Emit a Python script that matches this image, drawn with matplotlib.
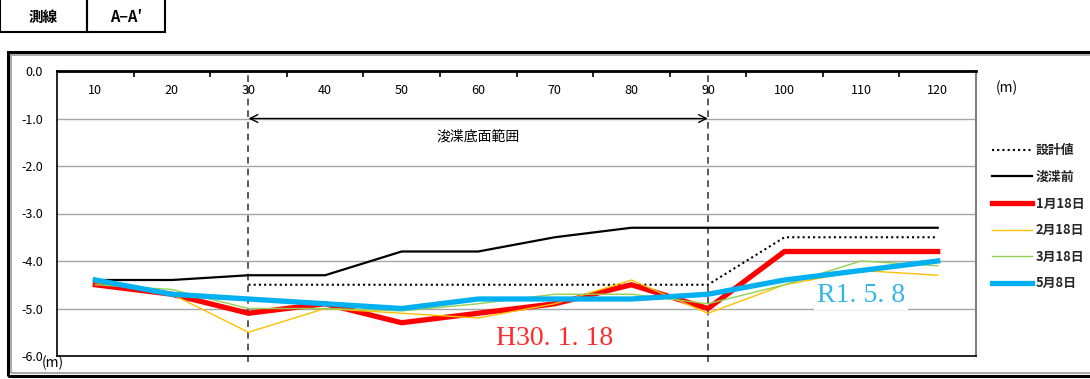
import matplotlib
matplotlib.use("Agg")
import matplotlib.pyplot as plt
import numpy as np
from matplotlib.patches import Rectangle

plt.rcParams['font.family'] = ['Noto Sans CJK JP', 'DejaVu Sans']

# ---- data ----
distances = [10, 20, 30, 40, 50, 60, 70, 80, 90, 100, 110, 120]
design = [np.nan, np.nan, -4.5, -4.5, -4.5, -4.5, -4.5, -4.5, -4.5, -3.5, -3.5, -3.5]
before = [-4.4, -4.4, -4.3, -4.3, -3.8, -3.8, -3.5, -3.3, -3.3, -3.3, -3.3, -3.3]
jan18 = [-4.5, -4.7, -5.1, -4.9, -5.3, -5.1, -4.9, -4.5, -5.0, -3.8, -3.8, -3.8]
feb18 = [-4.45, -4.7, -5.5, -5.0, -5.1, -5.2, -4.9, -4.4, -5.1, -4.5, -4.2, -4.3]
mar18 = [-4.5, -4.6, -5.0, -5.0, -5.05, -4.9, -4.7, -4.7, -4.9, -4.5, -4.0, -4.1]
may8 = [-4.4, -4.7, -4.8, -4.9, -5.0, -4.8, -4.8, -4.8, -4.7, -4.4, -4.2, -4.0]
yticks = [0.0, -1.0, -2.0, -3.0, -4.0, -5.0, -6.0]
range_start, range_end = 30, 90

W, H = 1090, 379
fig = plt.figure(figsize=(W / 100, H / 100), dpi=100)

def fx(px):
    return px / W

def fy(py):
    return 1 - py / H

# outer frame (double border)
fig.add_artist(Rectangle((fx(8), fy(376)), fx(1100) - fx(8), fy(52) - fy(376),
                         transform=fig.transFigure, fill=False, ec='black', lw=2.2))
fig.add_artist(Rectangle((fx(11), fy(373)), fx(1100) - fx(11), fy(55) - fy(373),
                         transform=fig.transFigure, fill=False, ec='#999999', lw=1.2))

# header table
for x0, x1, txt in [(0, 87, '測線'), (87, 165, 'A−A′')]:
    fig.add_artist(Rectangle((fx(x0), fy(32)), fx(x1) - fx(x0), fy(-2) - fy(32),
                             transform=fig.transFigure, fill=False, ec='black', lw=1.5))
    fig.text(fx((x0 + x1) / 2), fy(17), txt, ha='center', va='center',
             fontsize=10.5, fontweight='bold')

ax = fig.add_axes([fx(57), fy(356), fx(976) - fx(57), fy(71) - fy(356)])
idx = np.arange(len(distances))

ax.plot(idx, design, color='black', lw=1.5, ls=(0, (1, 1.5)), label='設計値')
ax.plot(idx, before, color='black', lw=1.6, label='浚渫前')
ax.plot(idx, jan18, color='#ff0000', lw=3.8, label='1月18日', solid_joinstyle='miter')
ax.plot(idx, feb18, color='#ffc000', lw=1.0, label='2月18日')
ax.plot(idx, mar18, color='#92d050', lw=1.0, label='3月18日')
ax.plot(idx, may8, color='#00b0f0', lw=3.8, label='5月8日')

ax.set_xlim(-0.5, len(distances) - 0.5)
ax.set_ylim(-6.0, 0.0)

# grid
for v in yticks[1:-1]:
    ax.axhline(v, color='#a6a6a6', lw=1.0, zorder=0)

# dredging range
xs = distances.index(range_start)
xe = distances.index(range_end)
for xv in (xs, xe):
    ax.axvline(xv, color='#404040', lw=1.2, ls=(0, (4, 3)), zorder=1, ymin=-0.02, clip_on=False)
ax.annotate('', xy=(xs, -1.0), xytext=(xe, -1.0),
            arrowprops=dict(arrowstyle='<->', color='black', lw=1.0,
                            mutation_scale=14, shrinkA=0, shrinkB=0))
ax.text((xs + xe) / 2, -1.38, '浚渫底面範囲', ha='center', va='center', fontsize=10)

# axes ticks
ax.xaxis.tick_top()
ax.set_xticks(idx)
ax.set_xticklabels([str(d) for d in distances], fontsize=9)
ax.tick_params(axis='x', which='major', length=0, pad=-19)
ax.set_xticks(np.arange(0.5, len(distances) - 0.5, 1.0), minor=True)
ax.tick_params(axis='x', which='minor', direction='in', length=4, width=1.2, top=True, bottom=False)
ax.set_yticks(yticks)
ax.set_yticklabels([f'{v:.1f}' for v in yticks], fontsize=9)
ax.tick_params(axis='y', length=0, pad=10)

for s in ['top', 'left', 'bottom']:
    ax.spines[s].set_color('black')
ax.spines['top'].set_linewidth(2.0)
ax.spines['left'].set_linewidth(1.2)
ax.spines['bottom'].set_linewidth(1.2)
ax.spines['right'].set_color('#808080')
ax.spines['right'].set_linewidth(1.5)

fig.text(fx(996), fy(88), '(m)', ha='left', va='center', fontsize=10)
fig.text(fx(42), fy(363), '(m)', ha='left', va='center', fontsize=10)

# annotations
ax.text(6.0, -5.64, 'H30. 1. 18', color='#ff2a2a', fontsize=20,
        family=['Liberation Serif', 'DejaVu Serif'], ha='center', va='center')
ax.text(10.0, -4.72, 'R1. 5. 8', color='#33b5e8', fontsize=20,
        family=['Liberation Serif', 'DejaVu Serif'], ha='center', va='center',
        bbox=dict(facecolor='white', edgecolor='none', pad=2), zorder=5)

ax_w = fx(976) - fx(57)
leg = ax.legend(loc='upper left', bbox_to_anchor=((fx(987) - fx(57)) / ax_w, 0.765),
                frameon=False, fontsize=9.3, handlelength=3.1, handletextpad=0.3,
                labelspacing=0.98, borderaxespad=0)
for t in leg.get_texts():
    t.set_fontweight('bold')
    t.set_color('#262626')

fig.savefig('out.png', dpi=100)
